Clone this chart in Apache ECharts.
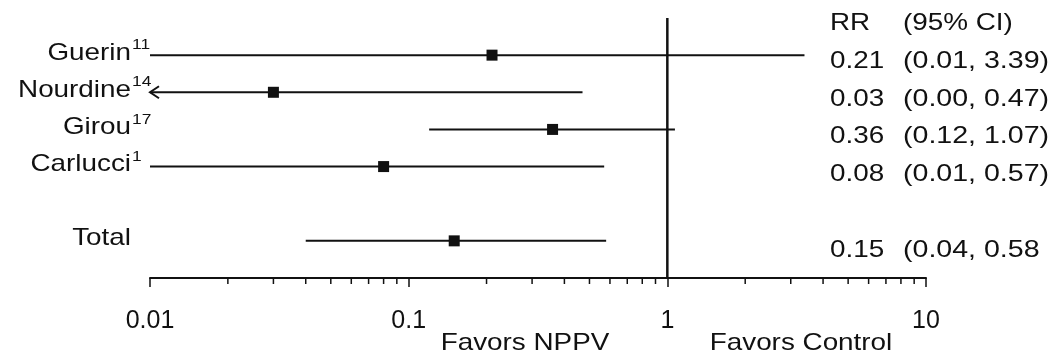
<!DOCTYPE html>
<html>
<head>
<meta charset="utf-8">
<script src="https://cdn.jsdelivr.net/npm/echarts@6/dist/echarts.min.js"></script>
<style>
html,body{margin:0;padding:0;background:#fff;}
#chart{width:1052px;height:356px;}
</style>
</head>
<body>
<div id="chart"></div>
<script>
// ---- data ----
var studies = ['Guerin', 'Nourdine', 'Girou', 'Carlucci', 'Total'];
var refs = ['11', '14', '17', '1', ''];
var rowPos = [1, 2, 3, 4, 6];
var rr = [0.21, 0.03, 0.36, 0.08, 0.15];
var ciLow = [0.01, 0.00, 0.12, 0.01, 0.04];
var ciHigh = [3.39, 0.47, 1.07, 0.57, 0.58];
var rrLabels = ['0.21', '0.03', '0.36', '0.08', '0.15'];
var ciLabels = ['(0.01, 3.39)', '(0.00, 0.47)', '(0.12, 1.07)', '(0.01, 0.57)', '(0.04, 0.58'];
var headerLabels = ['RR', '(95% CI)'];
var majorTicks = [0.01, 0.1, 1, 10];
var minorTicks = [0.02, 0.03, 0.04, 0.05, 0.06, 0.07, 0.08, 0.09,
                  0.2, 0.3, 0.4, 0.5, 0.6, 0.7, 0.8, 0.9,
                  2, 3, 4, 5, 6, 7, 8, 9];
var refValue = 1;
var xAxisLabels = ['Favors NPPV', 'Favors Control'];

var X_MIN = 0.01, X_MAX = 10, Y_MAX = 7;
var FONT = 'Liberation Sans, Arial, sans-serif';
var SX = 1.16;
var INK = '#111';

var chart = echarts.init(document.getElementById('chart'));

function txt(x, y, s, size, align, vAlign, sx) {
  return {
    type: 'text', x: x, y: y, scaleX: sx || SX,
    style: {text: s, fontSize: size, fontFamily: FONT, fill: INK,
            align: align, verticalAlign: vAlign || 'middle'}
  };
}

var RR_X = 830, CI_X = 903;
// right-column text sits a little below its row line, drifting lower down the table
function rightOffset(row) { return 5 + 0.8 * row; }

var rowData = studies.map(function (s, i) {
  return [rr[i], rowPos[i], Math.max(ciLow[i], X_MIN), ciHigh[i], i];
});

var option = {
  animation: false,
  backgroundColor: '#fff',
  grid: {left: 150, right: 126, top: 18, bottom: 78},
  xAxis: {
    type: 'log', logBase: 10, min: X_MIN, max: X_MAX,
    position: 'bottom',
    axisLine: {show: true, onZero: false, lineStyle: {color: INK, width: 2}},
    axisTick: {show: true, length: 9, lineStyle: {color: INK, width: 1.5}},
    axisLabel: {show: true, color: INK, fontSize: 25, fontFamily: FONT, margin: 31,
      formatter: function (v) {
        var idx = majorTicks.findIndex(function (t) { return Math.abs(t - v) / t < 1e-6; });
        return idx >= 0 ? String(majorTicks[idx]) : '';
      }},
    splitLine: {show: false},
    minorTick: {show: false}
  },
  yAxis: {
    type: 'value', min: 0, max: Y_MAX, inverse: true, show: false
  },
  graphic: [
    txt(525, 343, xAxisLabels[0], 24, 'center'),
    txt(801, 343, xAxisLabels[1], 24, 'center')
  ],
  series: [
    {
      type: 'line',
      data: [[refValue, 0], [refValue, Y_MAX]],
      symbol: 'none',
      lineStyle: {color: INK, width: 2.5},
      silent: true
    },
    {
      type: 'custom',
      data: minorTicks.map(function (v) { return [v, Y_MAX]; }),
      encode: {x: 0, y: 1},
      silent: true,
      renderItem: function (params, api) {
        var p = api.coord([api.value(0), api.value(1)]);
        return {type: 'line', shape: {x1: p[0], y1: p[1], x2: p[0], y2: p[1] + 6},
                style: {stroke: INK, lineWidth: 1.5}};
      }
    },
    {
      type: 'custom',
      data: [[X_MIN, 0]],
      encode: {x: 0, y: 1},
      silent: true,
      renderItem: function (params, api) {
        var p = api.coord([api.value(0), api.value(1)]);
        var off = rightOffset(0);
        return {type: 'group', children: [
          txt(RR_X, p[1] + off, headerLabels[0], 24, 'left'),
          txt(CI_X, p[1] + off, headerLabels[1], 24, 'left')
        ]};
      }
    },
    {
      type: 'custom',
      data: rowData,
      encode: {x: 0, y: 1},
      silent: true,
      renderItem: function (params, api) {
        var i = api.value(4);
        var y = api.value(1);
        var c = api.coord([api.value(0), y]);
        var lo = api.coord([api.value(2), y]);
        var hi = api.coord([api.value(3), y]);
        var sz = 11;
        var kids = [
          {type: 'line', shape: {x1: lo[0], y1: lo[1], x2: hi[0], y2: hi[1]},
           style: {stroke: INK, lineWidth: 2}},
          {type: 'rect', shape: {x: c[0] - sz / 2, y: c[1] - sz / 2, width: sz, height: sz},
           style: {fill: INK}}
        ];
        if (ciLow[i] < X_MIN) {
          kids.push({type: 'polyline',
            shape: {points: [[lo[0] + 9, lo[1] - 6], [lo[0], lo[1]], [lo[0] + 9, lo[1] + 6]]},
            style: {stroke: INK, lineWidth: 2, fill: null}});
        }
        var axisStart = api.coord([X_MIN, y]);
        var nameX = axisStart[0] - 19;
        kids.push(txt(nameX, c[1] - 2, studies[i], 24, 'right'));
        if (refs[i]) {
          kids.push(txt(nameX + 1, c[1] - 10, refs[i], 15, 'left'));
        }
        var off = rightOffset(y);
        kids.push(txt(RR_X, c[1] + off, rrLabels[i], 24, 'left'));
        kids.push(txt(CI_X, c[1] + off, ciLabels[i], 24, 'left', 'middle', 1.19));
        return {type: 'group', children: kids};
      }
    }
  ]
};
chart.setOption(option);
</script>
</body>
</html>
